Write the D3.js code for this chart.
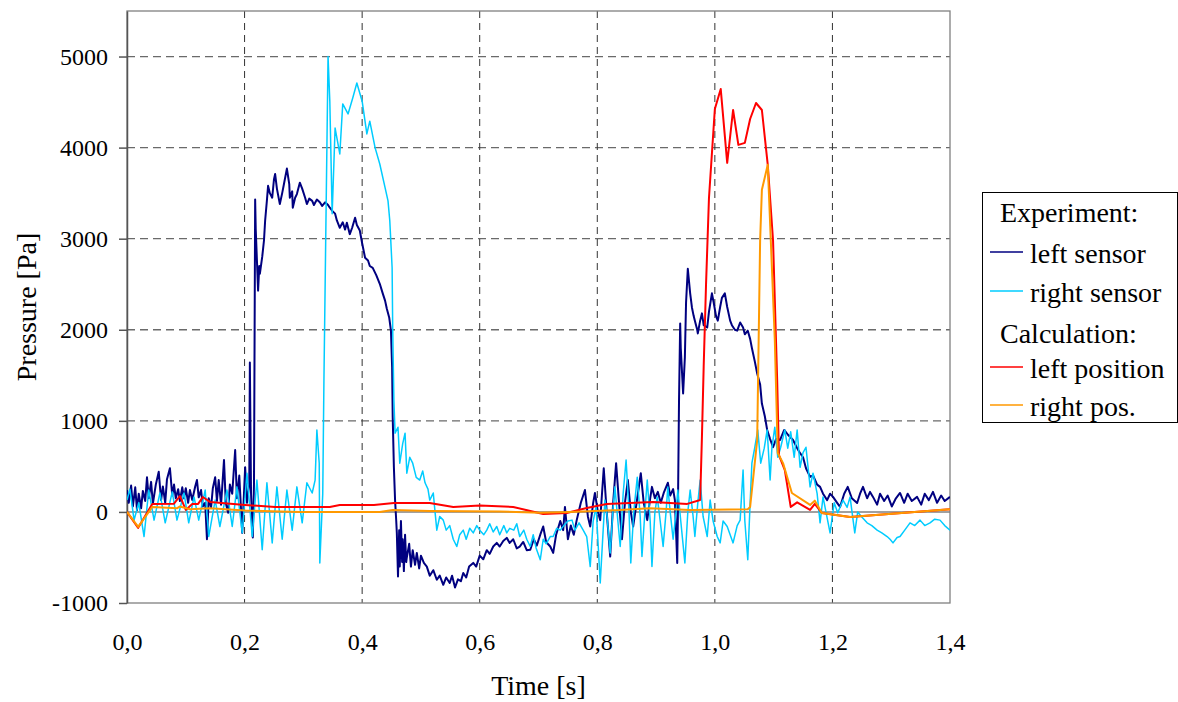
<!DOCTYPE html>
<html>
<head>
<meta charset="utf-8">
<script src="https://d3js.org/d3.v7.min.js"></script>
<style>
  body { margin: 0; background: #fff; }
  svg text { font-family: "Liberation Serif", "Times New Roman", serif; fill: #000; }
</style>
</head>
<body>
<main></main>
<script>
// time [s], pressure [Pa]
const leftSensor = [
  [0.000,240],[0.003,100],[0.007,290],[0.010,60],[0.014,270],[0.017,20],[0.020,200],[0.024,40],[0.027,230],[0.031,120],
  [0.034,380],[0.037,150],[0.041,330],[0.044,90],[0.049,300],[0.054,440],[0.058,130],[0.061,280],[0.065,100],[0.068,360],
  [0.073,480],[0.077,180],[0.080,300],[0.083,150],[0.087,250],[0.090,120],[0.094,270],[0.097,150],[0.100,260],[0.104,100],
  [0.107,240],[0.111,130],[0.116,280],[0.119,350],[0.122,160],[0.126,240],[0.129,60],[0.133,100],[0.136,-300],[0.139,150],
  [0.143,50],[0.146,260],[0.150,380],[0.153,120],[0.156,350],[0.160,80],[0.165,570],[0.168,100],[0.172,-10],[0.175,300],
  [0.179,200],[0.184,680],[0.187,150],[0.191,400],[0.196,-230],[0.201,490],[0.204,100],[0.208,300],[0.209,1640],[0.211,200],
  [0.214,-280],[0.216,300],[0.218,3430],[0.219,3100],[0.223,2430],[0.225,2700],[0.226,2615],[0.230,2800],[0.233,2980],[0.235,3200],
  [0.238,3420],[0.240,3580],[0.243,3500],[0.247,3450],[0.250,3650],[0.252,3710],[0.255,3550],[0.260,3380],[0.264,3500],[0.267,3600],
  [0.272,3770],[0.276,3600],[0.277,3450],[0.281,3520],[0.282,3340],[0.286,3450],[0.289,3490],[0.294,3615],[0.298,3550],[0.303,3450],
  [0.306,3380],[0.310,3440],[0.315,3415],[0.318,3370],[0.323,3430],[0.328,3400],[0.332,3360],[0.337,3400],[0.342,3370],[0.345,3340],
  [0.350,3300],[0.354,3275],[0.357,3200],[0.362,3120],[0.367,3180],[0.371,3100],[0.374,3175],[0.379,3050],[0.383,3120],[0.388,3230],
  [0.391,3150],[0.396,3090],[0.400,2950],[0.405,2790],[0.410,2760],[0.413,2700],[0.418,2680],[0.424,2600],[0.430,2505],[0.435,2400],
  [0.439,2320],[0.442,2230],[0.446,2135],[0.449,1990],[0.451,1590],[0.452,1040],[0.454,490],[0.456,130],[0.458,-100],[0.459,-230],
  [0.461,-710],[0.463,-200],[0.464,-600],[0.466,-100],[0.468,-550],[0.469,-300],[0.471,-650],[0.473,-250],[0.475,-550],[0.476,-500],
  [0.480,-350],[0.483,-600],[0.486,-420],[0.490,-580],[0.493,-450],[0.497,-620],[0.500,-480],[0.505,-560],[0.510,-600],[0.515,-700],
  [0.521,-640],[0.527,-745],[0.532,-700],[0.538,-800],[0.543,-720],[0.549,-780],[0.553,-700],[0.558,-830],[0.563,-740],[0.568,-760],
  [0.572,-670],[0.577,-720],[0.582,-600],[0.589,-560],[0.594,-600],[0.600,-480],[0.606,-520],[0.612,-420],[0.617,-460],[0.623,-380],
  [0.629,-340],[0.634,-380],[0.640,-320],[0.646,-285],[0.651,-340],[0.657,-300],[0.663,-400],[0.668,-380],[0.674,-330],[0.680,-420],
  [0.686,-415],[0.692,-300],[0.697,-370],[0.703,-250],[0.708,-160],[0.713,-330],[0.720,-380],[0.725,-450],[0.730,-250],[0.737,-100],
  [0.742,-200],[0.745,55],[0.750,-300],[0.755,-150],[0.760,-250],[0.765,-90],[0.772,100],[0.779,240],[0.784,-50],[0.788,-160],
  [0.793,100],[0.796,208],[0.801,0],[0.805,-90],[0.808,200],[0.811,480],[0.816,0],[0.822,-490],[0.827,100],[0.832,535],
  [0.837,100],[0.842,-300],[0.847,100],[0.852,350],[0.857,0],[0.861,-160],[0.868,150],[0.874,425],[0.879,100],[0.885,-90],
  [0.890,150],[0.893,275],[0.898,150],[0.903,220],[0.908,100],[0.913,208],[0.920,320],[0.924,180],[0.929,250],[0.932,130],
  [0.936,-560],[0.937,-100],[0.939,1200],[0.941,2070],[0.942,1800],[0.946,1300],[0.949,1700],[0.951,2300],[0.954,2670],[0.958,2400],
  [0.961,2245],[0.964,2150],[0.966,2100],[0.970,2000],[0.971,1960],[0.975,2100],[0.978,2180],[0.981,2050],[0.987,2025],[0.990,2200],
  [0.995,2400],[0.998,2300],[1.002,2150],[1.005,2100],[1.009,2250],[1.012,2350],[1.017,2400],[1.021,2250],[1.026,2100],[1.029,2050],
  [1.034,2000],[1.038,1990],[1.043,2080],[1.048,2025],[1.051,1950],[1.056,1990],[1.060,1900],[1.063,1800],[1.068,1650],[1.072,1520],
  [1.077,1400],[1.080,1190],[1.085,1050],[1.089,900],[1.094,800],[1.099,710],[1.104,800],[1.111,790],[1.118,900],[1.124,850],
  [1.133,790],[1.140,700],[1.145,645],[1.150,600],[1.155,480],[1.162,385],[1.167,400],[1.174,300],[1.179,275],[1.184,200],
  [1.191,130],[1.196,200],[1.201,165],[1.208,100],[1.213,55],[1.220,200],[1.226,275],[1.233,150],[1.242,98],[1.247,200],
  [1.252,275],[1.259,150],[1.264,220],[1.269,165],[1.276,80],[1.281,200],[1.288,120],[1.294,180],[1.301,60],[1.308,150],
  [1.315,208],[1.322,100],[1.328,200],[1.335,120],[1.344,165],[1.351,80],[1.357,200],[1.364,130],[1.371,220],[1.378,100],
  [1.385,180],[1.391,120],[1.400,165]
];

const rightSensor = [
  [0.000,130],[0.005,250],[0.012,-90],[0.020,100],[0.029,-270],[0.037,240],[0.046,-90],[0.056,208],[0.065,-120],[0.077,220],
  [0.085,-90],[0.097,208],[0.105,-120],[0.114,165],[0.122,-90],[0.133,240],[0.139,-270],[0.150,130],[0.158,-160],[0.170,240],
  [0.179,-160],[0.187,275],[0.196,-230],[0.204,425],[0.213,-270],[0.221,350],[0.230,-415],[0.238,320],[0.247,-340],[0.255,275],
  [0.264,-300],[0.272,240],[0.281,-200],[0.289,275],[0.298,-120],[0.306,320],[0.315,208],[0.320,350],[0.323,900],[0.327,535],
  [0.328,-560],[0.333,200],[0.335,1445],[0.342,5000],[0.345,4510],[0.349,3275],[0.354,4215],[0.362,3930],[0.367,4480],[0.376,4370],
  [0.384,4545],[0.391,4710],[0.400,4510],[0.408,4150],[0.413,4290],[0.422,4000],[0.430,3820],[0.439,3560],[0.444,3415],[0.447,3200],
  [0.451,2680],[0.452,2000],[0.454,1226],[0.456,865],[0.461,930],[0.464,535],[0.469,750],[0.473,865],[0.476,425],[0.481,600],
  [0.486,535],[0.492,380],[0.498,350],[0.503,450],[0.507,320],[0.512,250],[0.515,130],[0.521,208],[0.524,0],[0.527,-200],
  [0.532,-50],[0.538,-90],[0.543,-200],[0.549,-150],[0.555,-300],[0.561,-380],[0.566,-250],[0.572,-200],[0.577,-300],[0.583,-180],
  [0.589,-230],[0.595,-150],[0.600,-200],[0.607,-250],[0.612,-200],[0.617,-130],[0.623,-220],[0.629,-160],[0.634,-250],[0.641,-150],
  [0.646,-230],[0.651,-180],[0.658,-200],[0.663,-130],[0.668,-270],[0.675,-200],[0.680,-300],[0.686,-380],[0.691,-250],[0.696,-400],
  [0.703,-525],[0.708,-300],[0.713,-350],[0.720,-270],[0.725,-270],[0.731,-180],[0.737,-200],[0.743,-150],[0.750,-100],[0.757,-90],
  [0.762,-200],[0.769,-120],[0.776,-200],[0.782,-270],[0.788,-600],[0.793,-100],[0.798,55],[0.805,-780],[0.810,-200],[0.813,130],
  [0.816,0],[0.822,-450],[0.827,50],[0.830,275],[0.835,-100],[0.839,-380],[0.844,200],[0.849,570],[0.854,0],[0.857,-560],
  [0.862,0],[0.868,380],[0.873,-50],[0.876,-490],[0.881,0],[0.885,350],[0.890,-100],[0.893,-600],[0.898,0],[0.902,165],
  [0.907,-100],[0.912,-380],[0.917,0],[0.920,275],[0.924,0],[0.929,-300],[0.934,0],[0.937,240],[0.942,-100],[0.949,-560],
  [0.954,0],[0.958,240],[0.963,-50],[0.966,-270],[0.971,100],[0.975,350],[0.980,-50],[0.987,-270],[0.992,130],[0.997,-100],
  [1.004,-270],[1.009,-340],[1.014,-100],[1.021,-160],[1.026,-250],[1.031,-340],[1.038,-150],[1.043,-90],[1.048,460],[1.051,-100],
  [1.056,-525],[1.060,100],[1.063,535],[1.068,710],[1.073,900],[1.078,535],[1.084,700],[1.089,900],[1.094,350],[1.097,700],
  [1.102,930],[1.107,600],[1.112,710],[1.119,900],[1.124,700],[1.129,880],[1.135,600],[1.140,900],[1.145,490],[1.150,650],
  [1.155,710],[1.162,275],[1.167,425],[1.174,200],[1.179,-120],[1.184,165],[1.189,0],[1.196,-230],[1.203,100],[1.209,-10],
  [1.218,130],[1.225,50],[1.230,165],[1.238,-230],[1.243,0],[1.250,-55],[1.259,-120],[1.267,-150],[1.276,-200],[1.284,-230],
  [1.293,-270],[1.298,-300],[1.303,-340],[1.310,-280],[1.315,-270],[1.323,-200],[1.332,-120],[1.340,-150],[1.349,-90],[1.357,-150],
  [1.366,-120],[1.374,-80],[1.383,-90],[1.391,-150],[1.400,-200]
];

const leftPosition = [
  [0,0],[0.019,-175],[0.043,88],[0.080,90],[0.090,175],[0.100,22],[0.111,88],[0.121,88],[0.129,164],[0.141,110],
  [0.201,77],[0.252,55],[0.345,55],[0.362,77],[0.420,77],[0.454,98],[0.486,98],[0.515,98],[0.555,55],[0.600,70],
  [0.657,55],[0.686,11],[0.708,-22],[0.748,-11],[0.782,44],[0.816,88],[0.895,110],[0.953,88],[0.975,130],[0.978,821],
  [0.981,1600],[0.985,2500],[0.990,3450],[1.000,4424],[1.010,4643],[1.021,3833],[1.031,4413],[1.040,4030],[1.051,4052],[1.060,4314],
  [1.070,4490],[1.080,4413],[1.090,3811],[1.099,2980],[1.106,1445],[1.109,624],[1.119,460],[1.129,55],[1.140,105],[1.162,22],
  [1.170,88],[1.182,-11],[1.230,-55],[1.400,30]
];

const rightPos = [
  [0,0],[0.019,-164],[0.043,55],[0.085,40],[0.090,60],[0.107,30],[0.141,40],[0.201,15],[0.294,0],[0.430,0],
  [0.452,20],[0.515,10],[0.634,5],[0.703,-10],[0.753,0],[0.838,20],[0.889,40],[0.958,20],[1.056,30],[1.060,55],
  [1.072,788],[1.077,2980],[1.080,3537],[1.090,3811],[1.102,1883],[1.107,646],[1.116,536],[1.131,208],[1.162,77],[1.170,124],
  [1.182,-11],[1.230,-55],[1.400,30]
];

const xTicks = [0, 0.2, 0.4, 0.6, 0.8, 1.0, 1.2, 1.4];
const yTicks = [-1000, 0, 1000, 2000, 3000, 4000, 5000];
const seriesNames = ["left sensor", "right sensor", "left position", "right pos."];
const seriesColors = ["#000080", "#00CCFF", "#FF0000", "#FF9900"];
const groupTitles = ["Experiment:", "Calculation:"];

const width = 1178;
const height = 702;
const margin = { top: 11, right: 228, bottom: 99, left: 127 };
const serif = '"Liberation Serif", "Times New Roman", serif';

const svg = d3.select("main").append("svg").attr("width", width).attr("height", height);

const xScale = d3.scaleLinear().domain([0, 1.4]).range([margin.left, width - margin.right]);
const yScale = d3.scaleLinear().domain([-1000, 5500]).range([height - margin.bottom, margin.top]);

const plotW = width - margin.right - margin.left;
const plotH = height - margin.bottom - margin.top;

svg.append("clipPath").attr("id", "clip")
  .append("rect")
  .attr("x", margin.left).attr("y", margin.top)
  .attr("width", plotW).attr("height", plotH);

// horizontal grid
svg.append("g")
  .selectAll("line")
  .data(yTicks.filter((d) => d > 0))
  .enter()
  .append("line")
  .attr("x1", margin.left)
  .attr("x2", width - margin.right)
  .attr("y1", (d) => yScale(d))
  .attr("y2", (d) => yScale(d))
  .attr("stroke", "#6a6a6a")
  .attr("stroke-width", 1.3)
  .attr("stroke-dasharray", "8,5");

// vertical grid
svg.append("g")
  .selectAll("line")
  .data(xTicks.filter((d) => d > 0 && d < 1.4))
  .enter()
  .append("line")
  .attr("x1", (d) => xScale(d))
  .attr("x2", (d) => xScale(d))
  .attr("y1", margin.top)
  .attr("y2", height - margin.bottom)
  .attr("stroke", "#333")
  .attr("stroke-width", 1)
  .attr("stroke-dasharray", "7,5");

// frame
svg.append("rect")
  .attr("x", margin.left).attr("y", margin.top)
  .attr("width", plotW).attr("height", plotH)
  .attr("fill", "none")
  .attr("stroke", "#808080")
  .attr("stroke-width", 1.3);

// zero line
svg.append("line")
  .attr("x1", margin.left).attr("x2", width - margin.right)
  .attr("y1", yScale(0)).attr("y2", yScale(0))
  .attr("stroke", "#808080")
  .attr("stroke-width", 1.5);

const yAxis = d3.axisLeft(yScale)
  .tickValues(yTicks)
  .tickSize(8)
  .tickSizeOuter(0)
  .tickPadding(11)
  .tickFormat((d) => String(d));
const yG = svg.append("g")
  .attr("id", "y-axis")
  .attr("transform", `translate(${margin.left}, 0)`)
  .call(yAxis);
yG.select(".domain").attr("stroke", "#555").attr("stroke-width", 1.5);
yG.selectAll(".tick line").attr("stroke", "#555").attr("stroke-width", 1.5);
yG.selectAll(".tick text").style("font-size", "24px").style("font-family", serif);

const xAxis = d3.axisBottom(xScale)
  .tickValues(xTicks)
  .tickSize(0)
  .tickPadding(30)
  .tickFormat((d) => d3.format(".1f")(d).replace(".", ","));
const xG = svg.append("g")
  .attr("id", "x-axis")
  .attr("transform", `translate(0, ${height - margin.bottom})`)
  .call(xAxis);
xG.select(".domain").remove();
xG.selectAll(".tick text").style("font-size", "24px").style("font-family", serif);

svg.append("text")
  .attr("x", xScale(0.7))
  .attr("y", 695)
  .attr("text-anchor", "middle")
  .style("font-size", "28px")
  .style("font-family", serif)
  .text("Time [s]");

svg.append("text")
  .attr("transform", `translate(36, ${yScale(2250)}) rotate(-90)`)
  .attr("text-anchor", "middle")
  .style("font-size", "28px")
  .style("font-family", serif)
  .text("Pressure [Pa]");

const line = d3.line().x((d) => xScale(d[0])).y((d) => yScale(d[1]));

const allSeries = [leftSensor, rightSensor, leftPosition, rightPos];
const lineWidths = [2, 1.5, 2, 2];

svg.append("g")
  .attr("clip-path", "url(#clip)")
  .selectAll("path")
  .data(allSeries)
  .enter()
  .append("path")
  .attr("d", (d) => line(d))
  .attr("fill", "none")
  .attr("stroke", (d, i) => seriesColors[i])
  .attr("stroke-width", (d, i) => lineWidths[i])
  .attr("stroke-linejoin", "round");

// legend
const legend = svg.append("g").attr("id", "legend");
legend.append("rect")
  .attr("x", 982.5).attr("y", 192.5)
  .attr("width", 195).attr("height", 230)
  .attr("fill", "#fff")
  .attr("stroke", "#000")
  .attr("stroke-width", 1);

const titleY = [222, 343];
legend.selectAll("text.group")
  .data(groupTitles)
  .enter()
  .append("text")
  .attr("class", "group")
  .attr("x", 1000)
  .attr("y", (d, i) => titleY[i])
  .style("font-size", "28px")
  .style("font-family", serif)
  .text((d) => d);

const itemY = [263, 302, 378, 416];
const item = legend.selectAll("g.item")
  .data(seriesNames)
  .enter()
  .append("g")
  .attr("class", "item");
item.append("line")
  .attr("x1", 990).attr("x2", 1023)
  .attr("y1", (d, i) => itemY[i] - 11)
  .attr("y2", (d, i) => itemY[i] - 11)
  .attr("stroke", (d, i) => seriesColors[i])
  .attr("stroke-width", 1.5);
item.append("text")
  .attr("x", 1030)
  .attr("y", (d, i) => itemY[i])
  .style("font-size", "28px")
  .style("font-family", serif)
  .text((d) => d);
</script>
</body>
</html>
